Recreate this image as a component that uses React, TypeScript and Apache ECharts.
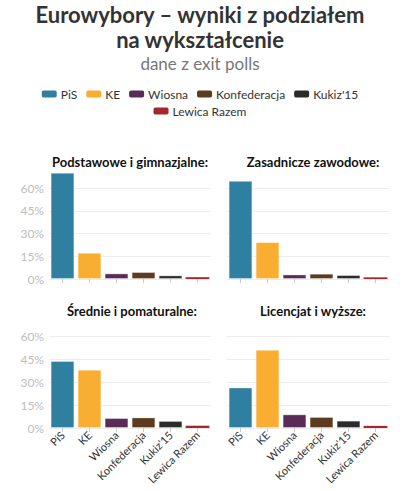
import React, { useEffect, useRef } from "react";
import * as echarts from "echarts";

const parties = ["PiS", "KE", "Wiosna", "Konfederacja", "Kukiz'15", "Lewica Razem"];
const partyColors = ["#2f7fa0", "#f9ae31", "#5b2b57", "#5c3b1e", "#2b2b2b", "#a6272d"];
const panelTitles = [
  "Podstawowe i gimnazjalne:",
  "Zasadnicze zawodowe:",
  "Średnie i pomaturalne:",
  "Licencjat i wyższe:",
];
const podstawowe = [70.1, 17.3, 3.7, 4.6, 2.4, 1.2];
const zasadnicze = [64.7, 24.3, 3.0, 3.5, 2.6, 1.1];
const srednie = [43.7, 38.0, 6.5, 6.9, 4.6, 1.5];
const licencjat = [26.4, 51.0, 8.9, 7.2, 4.8, 1.4];
const panelValues = [podstawowe, zasadnicze, srednie, licencjat];
const yTicks = [0, 15, 30, 45, 60];

const FONT = "Lato, 'Noto Sans', sans-serif";

export default function App() {
  const ref = useRef<HTMLDivElement>(null);
  useEffect(() => {
    if (!ref.current) return;
    const chart = echarts.init(ref.current, undefined, { renderer: "svg" });
    const grids = [
      { left: 49, top: 188, width: 162, height: 91, outerBoundsMode: "none", containLabel: false },
      { left: 227, top: 188, width: 162, height: 91, outerBoundsMode: "none", containLabel: false },
      { left: 49, top: 336, width: 162, height: 92, outerBoundsMode: "none", containLabel: false },
      { left: 227, top: 336, width: 162, height: 92, outerBoundsMode: "none", containLabel: false },
    ];
    const titleCenters = [
      { x: 125, y: 150 },
      { x: 308, y: 150 },
      { x: 127, y: 299 },
      { x: 308, y: 299 },
    ];
    const option: any = {
      animation: false,
      backgroundColor: "#fff",
      textStyle: { fontFamily: FONT },
      title: [
        {
          text: "Eurowybory – wyniki z podziałem\nna wykształcenie",
          subtext: "dane z exit polls",
          left: "center",
          top: -3,
          itemGap: 3,
          textStyle: {
            fontFamily: FONT,
            fontSize: 22,
            fontWeight: "bold",
            color: "#333",
            lineHeight: 25,
          },
          subtextStyle: { fontFamily: FONT, fontSize: 17, color: "#777" },
        },
        ...panelTitles.map((t, i) => ({
          text: t,
          left: titleCenters[i].x,
          top: titleCenters[i].y,
          textAlign: "center",
          textStyle: { fontFamily: FONT, fontSize: 13, fontWeight: "bold", color: "#111" },
        })),
      ],
      legend: [
        {
          data: parties.slice(0, 5),
          left: "center",
          top: 83,
          itemWidth: 15,
          itemHeight: 7,
          itemGap: 9,
          icon: "roundRect",
          selectedMode: false,
          textStyle: { fontFamily: FONT, fontSize: 12, color: "#333", padding: [0, 0, 0, -1] },
        },
        {
          data: parties.slice(5),
          left: "center",
          top: 100,
          itemWidth: 15,
          itemHeight: 7,
          icon: "roundRect",
          selectedMode: false,
          textStyle: { fontFamily: FONT, fontSize: 12, color: "#333", padding: [0, 0, 0, -1] },
        },
      ],
      grid: grids,
      xAxis: grids.map((_, i) => ({
        type: "category",
        gridIndex: i,
        data: parties,
        axisLine: { show: false },
        axisTick: { show: true, alignWithLabel: true, length: 4, lineStyle: { color: "#ccc" } },
        axisLabel: {
          show: i >= 2,
          rotate: 45,
          interval: 0,
          fontSize: 11,
          color: "#333",
          fontFamily: FONT,
          margin: 5,
        },
      })),
      yAxis: grids.map((_, i) => ({
        type: "value",
        gridIndex: i,
        min: 0,
        max: 60,
        interval: 15,
        axisLine: { show: false },
        axisTick: { show: false },
        splitLine: { show: true, lineStyle: { color: "#ececec", width: 1 } },
        axisLabel: {
          show: i % 2 === 0,
          formatter: (v: number) => (yTicks.includes(v) ? v + "%" : ""),
          fontSize: 12,
          color: "#bdbdbd",
          fontFamily: FONT,
          margin: 5,
        },
      })),
      series: [
        ...panelValues.map((vals, i) => ({
          type: "bar",
          xAxisIndex: i,
          yAxisIndex: i,
          clip: false,
          barCategoryGap: "12%",
          data: vals.map((v, j) => ({
            value: v,
            itemStyle: {
              color: partyColors[j],
              borderColor: "rgba(255,255,255,0.35)",
              borderWidth: v < 2 ? 0 : 1,
            },
          })),
        })),
        ...parties.map((p, j) => ({
          type: "line",
          name: p,
          xAxisIndex: 0,
          yAxisIndex: 0,
          data: [],
          itemStyle: { color: partyColors[j] },
          lineStyle: { color: partyColors[j] },
        })),
      ],
    };
    chart.setOption(option);
    return () => chart.dispose();
  }, []);
  return (
    <div
      ref={ref}
      style={{ position: "fixed", left: 0, top: 0, width: 400, height: 490 }}
    />
  );
}
